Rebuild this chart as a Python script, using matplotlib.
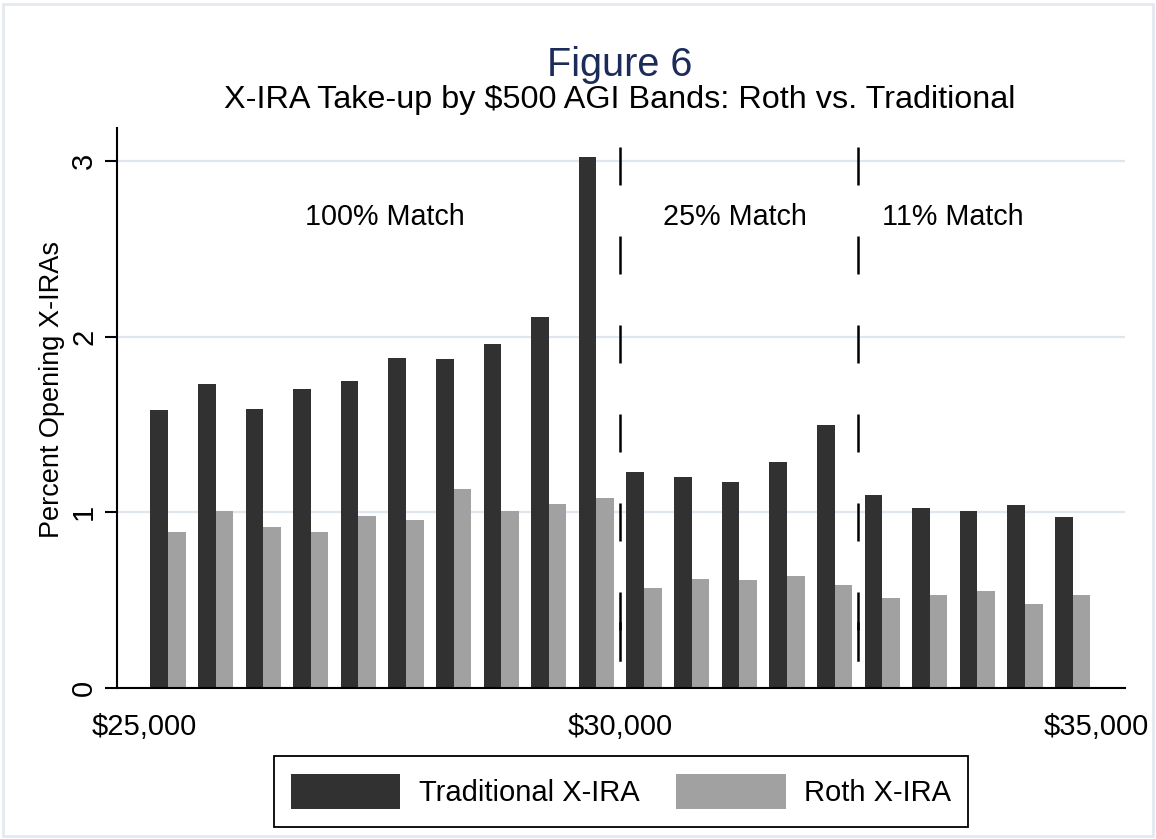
import numpy as np
import matplotlib
matplotlib.use("Agg")
import matplotlib.pyplot as plt
from matplotlib.patches import Rectangle, Patch

plt.rcParams['font.family'] = ['Liberation Sans', 'DejaVu Sans']

# $500 AGI bands, centred on each band
band_start = 25000
band_width = 500
traditional = [1.58, 1.73, 1.585, 1.70, 1.75, 1.88, 1.87, 1.96, 2.11, 3.02,
               1.232, 1.20, 1.17, 1.285, 1.495, 1.10, 1.025, 1.01, 1.04, 0.975]
roth = [0.89, 1.005, 0.915, 0.885, 0.98, 0.955, 1.13, 1.005, 1.045, 1.08,
        0.571, 0.621, 0.615, 0.64, 0.584, 0.514, 0.527, 0.554, 0.48, 0.527]

# match rate regions
cutoffs = [30000, 32500]
region_labels = ['100% Match', '25% Match', '11% Match']
region_x = [27530, 31200, 33490]

xticks = [25000, 30000, 35000]
xticklabels = ['$25,000', '$30,000', '$35,000']
yticks = [0, 1, 2, 3]

dark = '#313131'
light = '#a1a1a1'
fs = 21

W, H = 1156, 839
fig = plt.figure(figsize=(W / 100, H / 100), dpi=100)
ax = fig.add_axes([117 / W, 1 - 688 / H, (1125 - 117) / W, (688 - 128) / H])

centers = band_start + band_width / 2 + band_width * np.arange(len(traditional))
bw = 185
ax.bar(centers - bw / 2, traditional, width=bw, color=dark, zorder=2)
ax.bar(centers + bw / 2, roth, width=bw, color=light, zorder=2)

# dashed cutoff lines
for c in cutoffs:
    ax.plot([c, c], [3.08, 0.16], color='black', lw=1.8,
            linestyle=(0, (15.2, 20.4)), zorder=3)
    ax.plot([c, c], [0.37, 0.16], color='black', lw=1.8, zorder=3)

for lab, xx in zip(region_labels, region_x):
    ax.text(xx, 2.635, lab, ha='center', va='baseline', fontsize=20.7)

ax.set_xlim(24715, 35300)
ax.set_ylim(0, 3.187)
ax.set_xticks(xticks)
ax.set_xticklabels(xticklabels, fontsize=fs)
ax.set_yticks(yticks)
ax.set_yticklabels([str(t) for t in yticks], fontsize=fs, rotation=90, va='center')
ax.tick_params(axis='x', length=0, pad=18)
ax.tick_params(axis='y', length=8.5, width=1.5, pad=5)

ax.grid(axis='y', color='#e0e6f0', lw=1.6, zorder=0)
ax.set_axisbelow(True)
for s in ['top', 'right']:
    ax.spines[s].set_visible(False)
for s in ['left', 'bottom']:
    ax.spines[s].set_linewidth(1.5)

fig.text(52 / W, 1 - 390 / H, 'Percent Opening X-IRAs', rotation=90,
         ha='center', va='center', fontsize=19.5)

fig.text(620 / W, 1 - 76 / H, 'Figure 6', ha='center', va='baseline',
         fontsize=28.5, color='#1c2b5a')
fig.text(620 / W, 1 - 108 / H, 'X-IRA Take-up by $500 AGI Bands: Roth vs. Traditional',
         ha='center', va='baseline', fontsize=23.3)

handles = [Patch(facecolor=dark, label='Traditional X-IRA'),
           Patch(facecolor=light, label='Roth X-IRA')]
leg = fig.legend(handles=handles, loc='center', ncol=2,
                 bbox_to_anchor=(621 / W, 1 - 791.5 / H), fontsize=fs,
                 frameon=True, fancybox=False, framealpha=1,
                 handlelength=3.75, handleheight=1.5, handletextpad=0.62,
                 columnspacing=1.28, borderpad=0.6, borderaxespad=0)
leg.get_frame().set_edgecolor('black')
leg.get_frame().set_linewidth(1.3)

fig.patches.append(Rectangle((3 / W, 3 / H), 1150 / W, 832 / H,
                             transform=fig.transFigure, fill=False,
                             edgecolor='#e4e9f1', lw=2))

fig.savefig('out.png', dpi=100)
